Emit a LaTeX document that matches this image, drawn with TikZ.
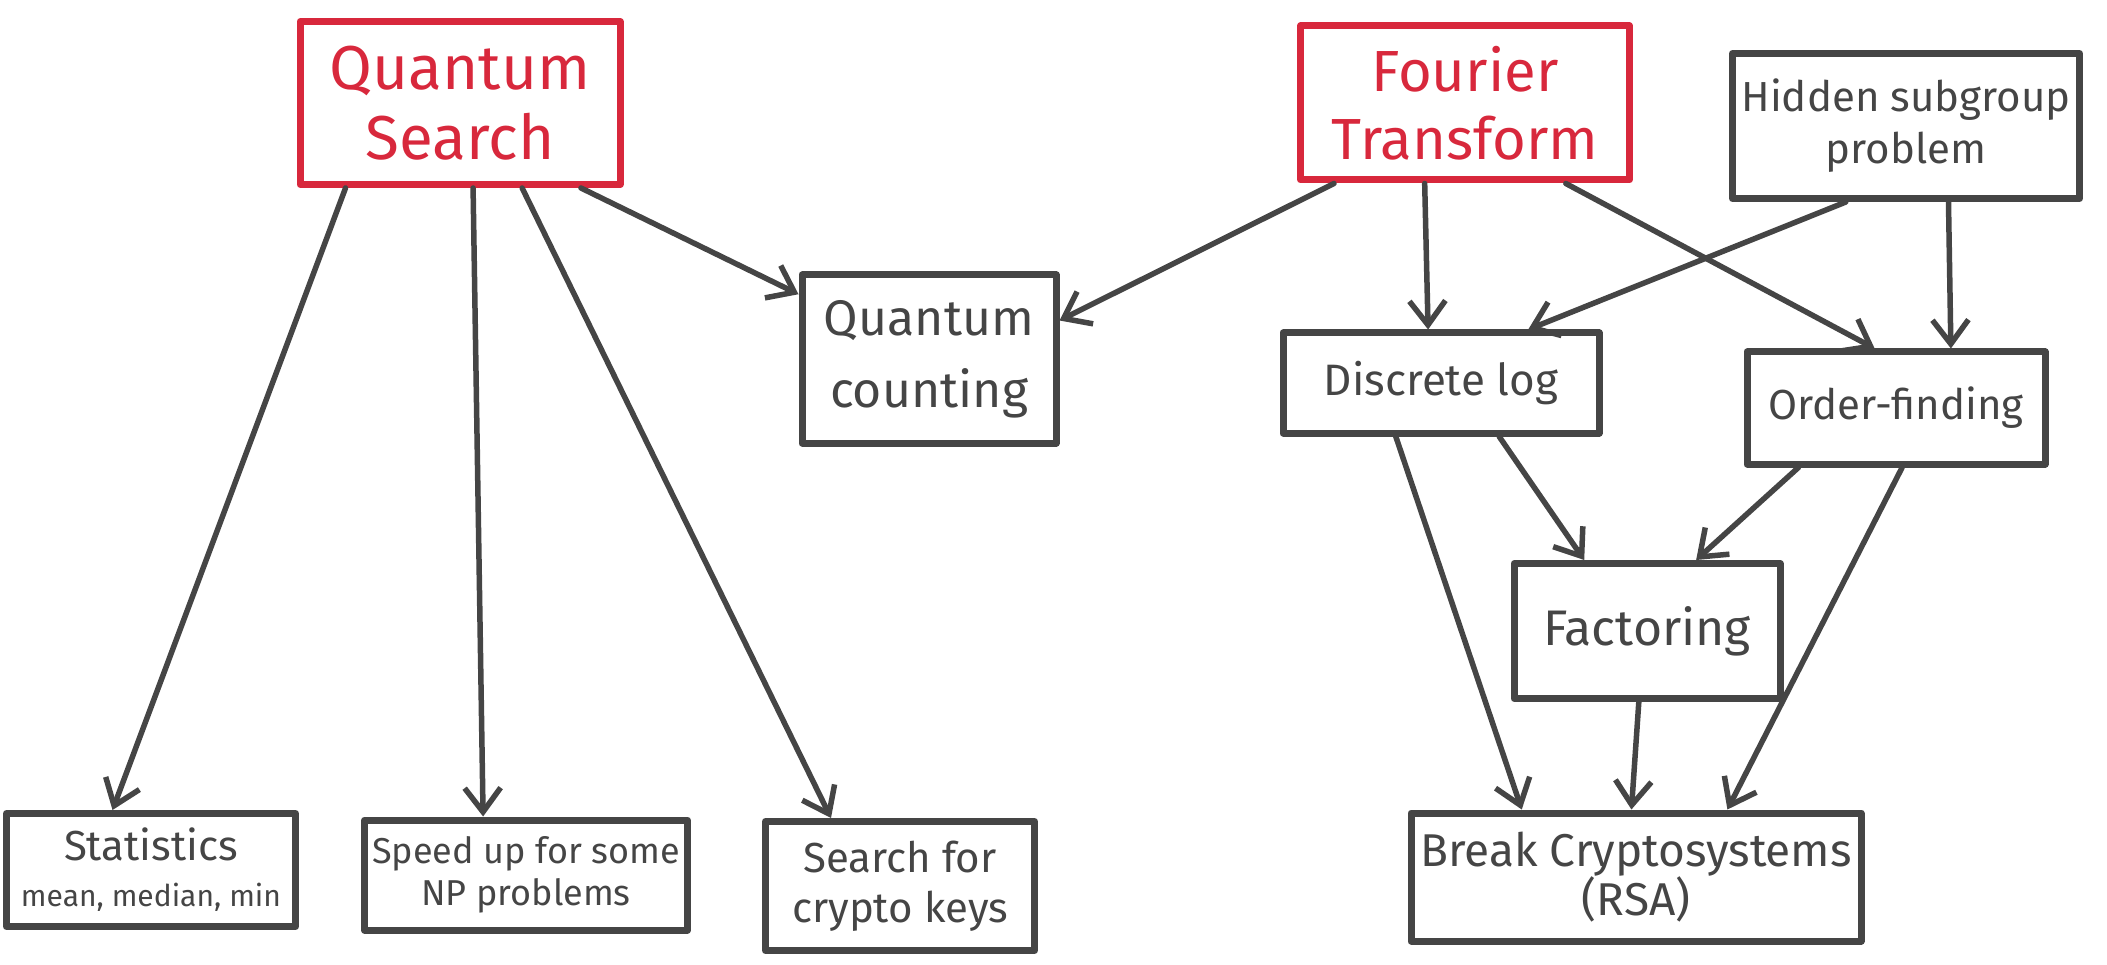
\documentclass[tikz,border=0pt]{standalone}
\usepackage{fontspec}
\setmainfont{Fira Sans}
\usetikzlibrary{arrows.meta,calc}
\definecolor{inkred}{HTML}{D8283C}
\definecolor{inkgrey}{HTML}{454545}
\tikzset{
  box/.style={draw=inkgrey, line width=7pt, text=inkgrey, align=center, inner sep=0pt, line join=round},
  redbox/.style={box, draw=inkred, text=inkred},
  arr/.style={draw=inkgrey, line width=5.5pt, line cap=round, -{Straight Barb[length=24pt,width=36pt,line width=5.5pt]}},
}
\newcommand{\fs}[2]{\fontsize{#1}{#2}\selectfont}
\begin{document}
\begin{tikzpicture}[x=1pt,y=-1pt]
\useasboundingbox (0,0) rectangle (2107,965);
% top nodes
\node[redbox, minimum width=320pt, minimum height=163pt, font=\fs{62}{70}] (qs) at (460,103) {Quantum\\Search};
\node[redbox, minimum width=329pt, minimum height=154pt, font=\fs{58}{68}] (ft) at (1465,103) {Fourier\\Transform};
\node[box, minimum width=347pt, minimum height=145pt, font=\fs{42}{52}] (hsp) at (1906,126) {Hidden subgroup\\problem};
% middle nodes
\node[box, minimum width=254pt, minimum height=168pt, font=\fs{50}{72}] (qc) at (929,359) {Quantum\\counting};
\node[box, minimum width=316pt, minimum height=100pt, font=\fs{44}{52}] (dl) at (1441,383) {Discrete log};
\node[box, minimum width=298pt, minimum height=112pt, font=\fs{42}{50}] (of) at (1896,408) {Order-finding};
\node[box, minimum width=266pt, minimum height=135pt, font=\fs{50}{60}] (fac) at (1647,631) {Factoring};
% bottom nodes
\node[box, minimum width=289pt, minimum height=113pt, font=\fs{42}{46}] (stat) at (151,870) {Statistics\\{\fs{30}{36}mean, median, min}};
\node[box, minimum width=323pt, minimum height=110pt, font=\fs{36}{42}] (spd) at (526,875) {Speed up for some\\NP problems};
\node[box, minimum width=269pt, minimum height=129pt, font=\fs{42}{50}] (key) at (900,886) {Search for\\crypto keys};
\node[box, minimum width=450pt, minimum height=128pt, font=\fs{46}{46}] (brk) at (1636,877) {Break Cryptosystems\\(RSA)};
% connectors from Quantum Search
\draw[arr] ($(qs.south west)!.15!(qs.south east)$) -- ($(stat.north west)!.37!(stat.north east)$);
\draw[arr] ($(qs.south west)!.54!(qs.south east)$) -- ($(spd.north west)!.37!(spd.north east)$);
\draw[arr] ($(qs.south west)!.69!(qs.south east)$) -- ($(key.north west)!.25!(key.north east)$);
\draw[arr] ($(qs.south west)!.87!(qs.south east)$) -- ($(qc.north west)!.13!(qc.south west)$);
% connectors from Fourier Transform
\draw[arr] ($(ft.south west)!.11!(ft.south east)$) -- ($(qc.north east)!.28!(qc.south east)$);
\draw[arr] ($(ft.south west)!.38!(ft.south east)$) -- ($(dl.north west)!.46!(dl.north east)$);
\draw[arr] ($(ft.south west)!.80!(ft.south east)$) -- ($(of.north west)!.43!(of.north east)$);
% connectors from Hidden subgroup problem
\draw[arr] ($(hsp.south west)!.33!(hsp.south east)$) -- ($(dl.north west)!.77!(dl.north east)$);
\draw[arr] ($(hsp.south west)!.62!(hsp.south east)$) -- ($(of.north west)!.68!(of.north east)$);
% lower connectors
\draw[arr] ($(dl.south west)!.68!(dl.south east)$) -- ($(fac.north west)!.27!(fac.north east)$);
\draw[arr] ($(dl.south west)!.36!(dl.south east)$) -- ($(brk.north west)!.25!(brk.north east)$);
\draw[arr] ($(of.south west)!.18!(of.south east)$) -- ($(fac.north west)!.68!(fac.north east)$);
\draw[arr] ($(of.south west)!.52!(of.south east)$) -- ($(brk.north west)!.70!(brk.north east)$);
\draw[arr] ($(fac.south west)!.47!(fac.south east)$) -- ($(brk.north west)!.49!(brk.north east)$);
\end{tikzpicture}
\end{document}
